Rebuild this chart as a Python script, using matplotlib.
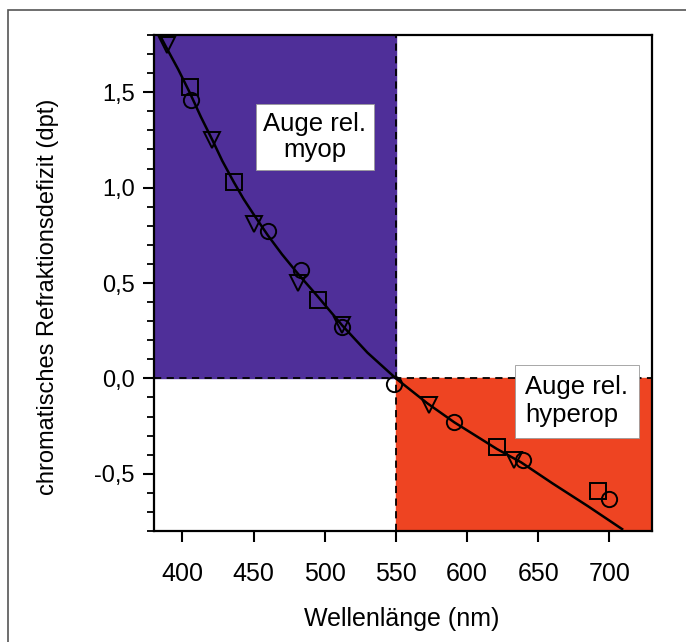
import numpy as np
import matplotlib.pyplot as plt
from matplotlib.patches import Rectangle
from matplotlib.ticker import MultipleLocator, FuncFormatter

plt.rcParams['font.family'] = ['Liberation Sans', 'DejaVu Sans']

# Messpunkte
tri_x = [389, 421, 450, 481, 512, 573, 633]
tri_y = [1.75, 1.25, 0.81, 0.50, 0.28, -0.14, -0.43]
sq_x = [405, 436, 495, 621, 692]
sq_y = [1.53, 1.03, 0.41, -0.36, -0.59]
circ_x = [406, 460, 483, 512, 549, 591, 639, 700]
circ_y = [1.46, 0.77, 0.57, 0.27, -0.03, -0.23, -0.43, -0.63]

# Ausgleichskurve
fit_x = [384, 389, 397, 405, 413, 421, 428, 436, 443, 450, 460, 470, 481, 495, 512, 530, 550,
         572, 591, 621, 638, 660, 685, 709]
fit_y = [1.80, 1.73, 1.62, 1.50, 1.37, 1.25, 1.14, 1.03, 0.94, 0.86, 0.75, 0.65, 0.55, 0.43,
         0.28, 0.135, 0.0, -0.13, -0.23, -0.37, -0.44, -0.55, -0.67, -0.79]

fig = plt.figure(figsize=(6.86, 6.42), dpi=100)
ax = fig.add_axes([154/686, 1-531/642, (652-154)/686, (531-35)/642])

xmin, xmax, ymin, ymax = 380, 730, -0.8, 1.8
ax.set_xlim(xmin, xmax)
ax.set_ylim(ymin, ymax)

# Farbflächen
ax.add_patch(Rectangle((xmin, 0), 550-xmin, ymax, color='#4f2f99', zorder=0))
ax.add_patch(Rectangle((550, ymin), xmax-550, -ymin, color='#ee4422', zorder=0))
ax.axvline(550, color='black', ls='--', lw=1.3, dashes=(4, 3), zorder=1)
ax.axhline(0, color='black', ls='--', lw=1.3, dashes=(4, 3), zorder=1)

ax.plot(fit_x, fit_y, color='black', lw=1.8, zorder=2)
mk = dict(ls='none', mfc='none', mec='black', mew=1.4, ms=11, zorder=3)
ax.plot(tri_x, tri_y, marker='v', **mk)
ax.plot(sq_x, sq_y, marker='s', **mk)
ax.plot(circ_x, circ_y, marker='o', **mk)

ax.text(493, 1.265, 'Auge rel.\nmyop', ha='center', va='center', multialignment='center',
        fontsize=18.5, linespacing=1.15, zorder=4,
        bbox=dict(boxstyle='square,pad=0.3', fc='white', ec='#999999', lw=0.6))
ax.text(641, -0.12, 'Auge rel.\nhyperop', ha='left', va='center', multialignment='left',
        fontsize=18.5, linespacing=1.2, zorder=4,
        bbox=dict(boxstyle='square,pad=0.42', fc='white', ec='#999999', lw=0.6))

ax.xaxis.set_major_locator(MultipleLocator(50))
ax.yaxis.set_major_locator(MultipleLocator(0.5))
ax.yaxis.set_minor_locator(MultipleLocator(0.1))
ax.yaxis.set_major_formatter(FuncFormatter(lambda v, p: f'{v:.1f}'.replace('.', ',')))
ax.tick_params(axis='both', which='major', length=8, width=1.5, direction='out')
ax.tick_params(axis='x', labelsize=18, pad=14)
ax.tick_params(axis='y', labelsize=17, pad=6)
ax.tick_params(axis='y', which='minor', length=5, width=1.3)
for s in ax.spines.values():
    s.set_linewidth(1.6)

ax.set_xlabel('Wellenlänge (nm)', fontsize=18, va='center')
ax.xaxis.set_label_coords(0.498, -0.178)
ax.set_ylabel('chromatisches Refraktionsdefizit (dpt)', fontsize=17, va='center')
ax.yaxis.set_label_coords(-0.213, 0.472)

# äußerer Rahmen
fig.patches.append(Rectangle((8/686, -0.5), 2, 1-10/642+0.5, transform=fig.transFigure,
                             fill=False, ec='#555555', lw=1.2))

fig.savefig('out.png', dpi=100)
